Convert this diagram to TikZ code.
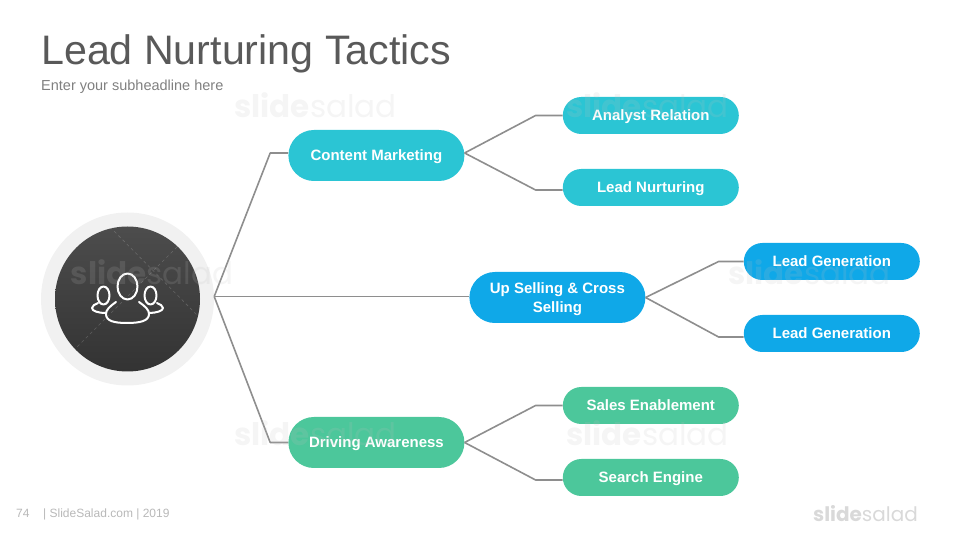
\documentclass[tikz,border=0pt]{standalone}
\usepackage{fontspec}
\setmainfont{Liberation Sans}
\newfontfamily\markfont{Poppins}
\usepackage{xcolor}
\usetikzlibrary{positioning, shapes.misc}

\definecolor{tealpill}{HTML}{2BC5D4}
\definecolor{bluepill}{HTML}{0FA8E8}
\definecolor{greenpill}{HTML}{4CC79B}
\definecolor{linkgray}{HTML}{8E8E8E}
\definecolor{ringgray}{HTML}{F1F1F1}

\tikzset{
    pill/.style={rounded rectangle, fill=#1, text=white, inner sep=0pt, align=center, font=\fontsize{15}{19}\selectfont\bfseries},
    bigpill/.style={pill=#1, minimum width=176pt, minimum height=51pt},
    smallpill/.style={pill=#1, minimum width=176pt, minimum height=37pt, text height=11pt, text depth=0pt},
    link/.style={draw=linkgray, line width=1.6pt, line join=round},
    iconline/.style={draw=white, line width=2pt, line join=round, line cap=round},
    wmark/.style={text=black!25, opacity=0.16, font=\markfont\fontsize{31}{31}\selectfont, inner sep=0pt}
}

\begin{document}
\begin{tikzpicture}[x=1pt, y=1pt]
    \useasboundingbox (0,0) rectangle (960,540);

    % Heading
    \node (title) [anchor=base west, inner sep=0pt, text=black!65, font=\fontsize{41.2}{41.2}\selectfont] at (41,475) {Lead Nurturing Tactics};
    \node (subtitle) [anchor=base west, inner sep=0pt, text=black!50, font=\fontsize{14.5}{14.5}\selectfont] at (41,449) {Enter your subheadline here};

    % Root
    \node (root) [circle, fill=ringgray, minimum size=173pt, inner sep=0pt] at (127.5,241) {};
    \node (disc) [circle, top color=black!70, bottom color=black!80, minimum size=145pt, inner sep=0pt] at (root) {};
    \draw[white, opacity=0.18, dashed, line width=0.6pt] (110,313) -- (197,225);
    \draw[white, opacity=0.18, dashed, line width=0.6pt] (177,293) -- (77,193);

    % Icon
    \draw[iconline] (127.5,253.5) ellipse (10pt and 13pt);
    \draw[iconline] (103.5,244.5) ellipse (6pt and 9pt);
    \draw[iconline] (150.5,244.5) ellipse (6pt and 9pt);
    \draw[iconline] (116,238) .. controls (109,233) and (106,230) .. (106,226) .. controls (106,219) and (114,217) .. (127,217) .. controls (140,217) and (149,219) .. (149,226) .. controls (149,230) and (146,233) .. (139,238);
    \draw[iconline] (98,237) .. controls (95,235) and (92,235) .. (92,232) .. controls (92,229) and (98,227) .. (106,227);
    \draw[iconline] (157,237) .. controls (160,235) and (163,235) .. (163,232) .. controls (163,229) and (156,227) .. (149,227);

    % Branches
    \node (content) [bigpill=tealpill, text height=11pt, text depth=0pt, right=74pt of root, yshift=143.5pt] {Content Marketing};
    \node (upsell) [bigpill=bluepill, right=255pt of root, yshift=1.5pt] {\rule{0pt}{15pt}Up Selling \& Cross\\Selling};
    \node (driving) [bigpill=greenpill, text height=11pt, text depth=0pt, right=74pt of root, yshift=-143.5pt] {Driving Awareness};

    % Leaves
    \node (analyst) [smallpill=tealpill, right=98pt of content, yshift=40pt] {Analyst Relation};
    \node (nurture) [smallpill=tealpill, right=98pt of content, yshift=-32pt] {Lead Nurturing};
    \node (leadgena) [smallpill=bluepill, right=98pt of upsell, yshift=36pt] {Lead Generation};
    \node (leadgenb) [smallpill=bluepill, right=98pt of upsell, yshift=-36pt] {Lead Generation};
    \node (sales) [smallpill=greenpill, right=98pt of driving, yshift=37pt] {Sales Enablement};
    \node (search) [smallpill=greenpill, right=98pt of driving, yshift=-35pt] {Search Engine};

    % Bends
    \coordinate [above=2.5pt of root.east] (hub);
    \coordinate [left=18pt of content, yshift=2.5pt] (bendcontent);
    \coordinate [left=18pt of driving] (benddriving);
    \coordinate [above=2.5pt of content.east] (contentout);
    \coordinate [left=27pt of analyst] (bendanalyst);
    \coordinate [left=27pt of nurture, yshift=-2.5pt] (bendnurture);
    \coordinate [left=25pt of leadgena] (bendgena);
    \coordinate [left=25pt of leadgenb, yshift=-3.5pt] (bendgenb);
    \coordinate [left=27pt of sales] (bendsales);
    \coordinate [left=27pt of search, yshift=-2.5pt] (bendsearch);

    % Edges
    \draw[link] (hub) -- (bendcontent) -- (content.west |- bendcontent);
    \draw[link] (hub) -- (upsell.west |- hub);
    \draw[link] (hub) -- (benddriving) -- (driving);
    \draw[link] (contentout) -- (bendanalyst) -- (analyst);
    \draw[link] (contentout) -- (bendnurture) -- (nurture.west |- bendnurture);
    \draw[link] (upsell.east) -- (bendgena) -- (leadgena);
    \draw[link] (upsell.east) -- (bendgenb) -- (leadgenb.west |- bendgenb);
    \draw[link] (driving.east) -- (bendsales) -- (sales);
    \draw[link] (driving.east) -- (bendsearch) -- (search.west |- bendsearch);

    % Footer
    \node (pagenum) [anchor=base west, inner sep=0pt, text=black!28, font=\fontsize{12}{12}\selectfont] at (16,22) {74};
    \node (footer) [anchor=base west, inner sep=0pt, text=black!28, font=\fontsize{12}{12}\selectfont] at (43,22) {| SlideSalad.com | 2019};

    % Watermarks
    \node (marka) [wmark] at (315.5,435) {{\bfseries slide}salad};
    \node (markb) [wmark] at (647.5,435) {{\bfseries slide}salad};
    \node (markc) [wmark] at (152,268) {{\bfseries slide}salad};
    \node (markd) [wmark] at (809.5,268) {{\bfseries slide}salad};
    \node (marke) [wmark] at (315.5,107) {{\bfseries slide}salad};
    \node (markf) [wmark] at (647.5,107) {{\bfseries slide}salad};
    \node (logo) [text=black!15, inner sep=0pt, font=\markfont\fontsize{20}{20}\selectfont] at (865.5,26) {{\bfseries slide}salad};
\end{tikzpicture}
\end{document}
